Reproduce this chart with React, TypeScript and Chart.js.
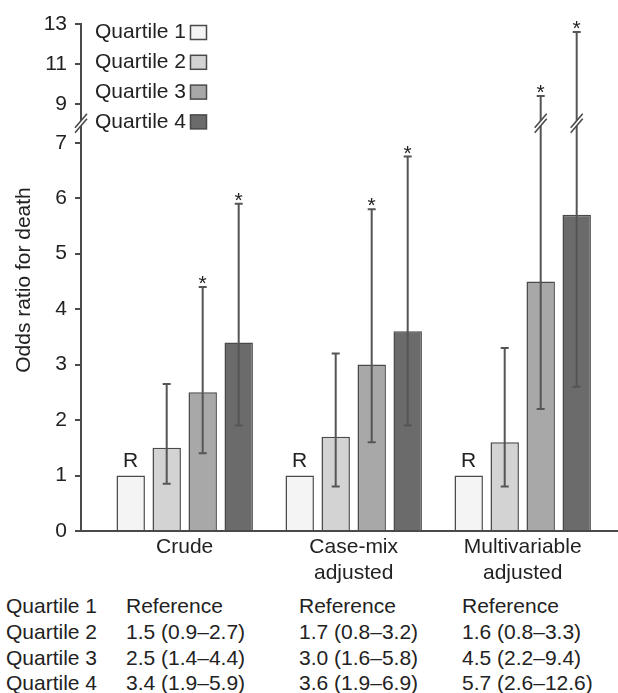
import React, { useEffect, useRef } from 'react';
import { Chart, registerables } from 'chart.js';

Chart.register(...registerables);

const FONT = "'Liberation Sans', Arial, Helvetica, sans-serif";
const TEXT = '#222222';
const LINE = '#4a4a4a';
const ERR = '#555555';

// ---- data ----
const categories = [['Crude'], ['Case-mix', 'adjusted'], ['Multivariable', 'adjusted']];
const quartileNames = ['Quartile 1', 'Quartile 2', 'Quartile 3', 'Quartile 4'];
const quartileColors = ['#f4f4f4', '#d3d3d3', '#a8a8a8', '#6b6b6b'];

const q1Values = [1, 1, 1];
const q2Values = [1.5, 1.7, 1.6];
const q3Values = [2.5, 3.0, 4.5];
const q4Values = [3.4, 3.6, 5.7];

const q2Low = [0.85, 0.8, 0.8];
const q2High = [2.65, 3.2, 3.3];
const q3Low = [1.4, 1.6, 2.2];
const q3High = [4.4, 5.8, 9.4];
const q4Low = [1.9, 1.9, 2.6];
const q4High = [5.9, 6.75, 12.6];

const q3Significant = [true, true, true];
const q4Significant = [true, true, true];

const referenceLabel = 'R';

const yTickValues = [0, 1, 2, 3, 4, 5, 6, 7, 9, 11, 13];
const yTickLabels = ['0', '1', '2', '3', '4', '5', '6', '7', '9', '11', '13'];
const yAxisTitle = 'Odds ratio for death';

const tableQuartile1 = ['Quartile 1', 'Reference', 'Reference', 'Reference'];
const tableQuartile2 = ['Quartile 2', '1.5 (0.9–2.7)', '1.7 (0.8–3.2)', '1.6 (0.8–3.3)'];
const tableQuartile3 = ['Quartile 3', '2.5 (1.4–4.4)', '3.0 (1.6–5.8)', '4.5 (2.2–9.4)'];
const tableQuartile4 = ['Quartile 4', '3.4 (1.9–5.9)', '3.6 (1.9–6.9)', '5.7 (2.6–12.6)'];

// ---- broken axis mapping ----
const BREAK_FROM = 7;
const BREAK_TO = 9;
const UPPER_START = 7.7;
const UPPER_SCALE = 0.36;
const BREAK_MARK_VALUE = 8;

function toAxis(v: number): number {
  if (v <= BREAK_FROM) return v;
  if (v >= BREAK_TO) return UPPER_START + (v - BREAK_TO) * UPPER_SCALE;
  return BREAK_FROM + ((v - BREAK_FROM) * (UPPER_START - BREAK_FROM)) / (BREAK_TO - BREAK_FROM);
}

const seriesValues = [q1Values, q2Values, q3Values, q4Values];
const lowerBounds: (number[] | null)[] = [null, q2Low, q3Low, q4Low];
const upperBounds: (number[] | null)[] = [null, q2High, q3High, q4High];
const significance: (boolean[] | null)[] = [null, null, q3Significant, q4Significant];
const tableRows = [tableQuartile1, tableQuartile2, tableQuartile3, tableQuartile4];

// ---- layout constants ----
const CANVAS_W = 618;
const CANVAS_H = 590;
const X_MIN = -0.6136;
const X_MAX = 2.5639;
const FONT_SIZE = 21;
const LEGEND_TOP = 32.5;
const LEGEND_STEP = 29.8;
const TABLE_TOP = 593;
const TABLE_STEP = 25.8;
const TABLE_COLS = [6, 126, 299, 462];

function drawBreak(ctx: CanvasRenderingContext2D, cx: number, cy: number, hx: number, hy: number, gap: number) {
  ctx.save();
  ctx.fillStyle = '#ffffff';
  ctx.beginPath();
  ctx.moveTo(cx - hx, cy + hy - gap);
  ctx.lineTo(cx + hx, cy - hy - gap);
  ctx.lineTo(cx + hx, cy - hy + gap);
  ctx.lineTo(cx - hx, cy + hy + gap);
  ctx.closePath();
  ctx.fill();
  ctx.strokeStyle = LINE;
  ctx.lineWidth = 1.6;
  ctx.beginPath();
  ctx.moveTo(cx - hx, cy + hy - gap);
  ctx.lineTo(cx + hx, cy - hy - gap);
  ctx.moveTo(cx - hx, cy + hy + gap);
  ctx.lineTo(cx + hx, cy - hy + gap);
  ctx.stroke();
  ctx.restore();
}

const overlay = {
  id: 'overlay',
  afterDatasetsDraw(chart: any) {
    const ctx: CanvasRenderingContext2D = chart.ctx;
    const ys = chart.scales.y;
    ctx.save();
    ctx.font = `${FONT_SIZE}px ${FONT}`;
    ctx.fillStyle = TEXT;
    const m0 = chart.getDatasetMeta(0);
    m0.data.forEach((bar: any) => {
      ctx.textAlign = 'center';
      ctx.textBaseline = 'middle';
      ctx.fillText(referenceLabel, bar.x, bar.y - 14);
    });
    for (let d = 1; d < 4; d++) {
      const lo = lowerBounds[d]!;
      const hi = upperBounds[d]!;
      const sig = significance[d];
      const meta = chart.getDatasetMeta(d);
      meta.data.forEach((bar: any, j: number) => {
        const x = bar.x;
        const yLo = ys.getPixelForValue(toAxis(lo[j]));
        const yHi = ys.getPixelForValue(toAxis(hi[j]));
        ctx.strokeStyle = ERR;
        ctx.lineWidth = 2;
        ctx.beginPath();
        ctx.moveTo(x, yLo);
        ctx.lineTo(x, yHi);
        ctx.moveTo(x - 4, yLo);
        ctx.lineTo(x + 4, yLo);
        ctx.moveTo(x - 4, yHi);
        ctx.lineTo(x + 4, yHi);
        ctx.stroke();
        if (hi[j] > BREAK_TO) {
          drawBreak(ctx, x, ys.getPixelForValue(toAxis(BREAK_MARK_VALUE)), 6, 7, 2.5);
        }
        if (sig && sig[j]) {
          ctx.fillStyle = TEXT;
          ctx.textAlign = 'center';
          ctx.textBaseline = 'alphabetic';
          ctx.fillText('*', x, yHi + 3);
        }
      });
    }
    ctx.restore();
  },
  afterDraw(chart: any) {
    const ctx: CanvasRenderingContext2D = chart.ctx;
    const ys = chart.scales.y;
    const area = chart.chartArea;
    drawBreak(ctx, area.left, ys.getPixelForValue(toAxis(BREAK_MARK_VALUE)), 6, 7, 2.5);
    ctx.save();
    ctx.font = `${FONT_SIZE}px ${FONT}`;
    quartileNames.forEach((name, i) => {
      const cy = LEGEND_TOP + i * LEGEND_STEP;
      ctx.fillStyle = TEXT;
      ctx.textAlign = 'right';
      ctx.textBaseline = 'middle';
      ctx.fillText(name, 186, cy);
      ctx.fillStyle = quartileColors[i];
      ctx.fillRect(190.5, cy - 7, 16, 14);
      ctx.strokeStyle = LINE;
      ctx.lineWidth = 1.5;
      ctx.strokeRect(190.5, cy - 7, 16, 14);
    });
    ctx.translate(24, 280);
    ctx.rotate(-Math.PI / 2);
    ctx.fillStyle = TEXT;
    ctx.textAlign = 'center';
    ctx.textBaseline = 'middle';
    ctx.fillText(yAxisTitle, 0, 0);
    ctx.restore();
  },
};

export default function App() {
  const ref = useRef<HTMLCanvasElement>(null);
  useEffect(() => {
    const canvas = ref.current;
    if (!canvas) return;
    const datasets = quartileNames.map((name, i) => ({
      label: name,
      data: seriesValues[i].map((v, j) => ({ x: j, y: toAxis(v) })),
      backgroundColor: quartileColors[i],
      borderColor: LINE,
      borderWidth: 1.5,
      borderSkipped: 'start' as const,
      categoryPercentage: 0.852,
      barPercentage: 0.79,
    }));
    const tickFont = { family: FONT, size: FONT_SIZE, lineHeight: 1.24 };
    const chart = new Chart(canvas, {
      type: 'bar',
      data: { datasets },
      options: {
        animation: false,
        responsive: false,
        maintainAspectRatio: false,
        layout: { padding: { top: 24, right: 0, bottom: 0, left: 0 } },
        plugins: { legend: { display: false }, tooltip: { enabled: false }, title: { display: false } },
        scales: {
          x: {
            type: 'linear',
            min: X_MIN,
            max: X_MAX,
            offset: false,
            grid: { display: false, drawTicks: false, offset: false },
            border: { display: true, color: LINE, width: 2 },
            ticks: {
              padding: 3,
              maxRotation: 0,
              autoSkip: false,
              color: TEXT,
              font: tickFont,
              callback: (_v: any, i: number) => categories[i],
            },
            afterBuildTicks: (s: any) => {
              s.ticks = categories.map((_c, i) => ({ value: i }));
            },
            afterFit: (s: any) => {
              s.height = CANVAS_H - 531;
            },
          },
          y: {
            type: 'linear',
            min: 0,
            max: toAxis(13),
            grid: { drawOnChartArea: false, drawTicks: true, tickLength: 6, color: LINE, lineWidth: 2 },
            border: { display: true, color: LINE, width: 2 },
            ticks: {
              padding: 8,
              color: TEXT,
              font: tickFont,
              autoSkip: false,
              callback: (_v: any, i: number) => yTickLabels[i],
            },
            afterBuildTicks: (s: any) => {
              s.ticks = yTickValues.map((v) => ({ value: toAxis(v) }));
            },
            afterFit: (s: any) => {
              s.width = 81;
            },
          },
        },
      } as any,
      plugins: [overlay as any],
    });
    return () => chart.destroy();
  }, []);

  return (
    <div
      style={{
        position: 'fixed',
        left: 0,
        top: 0,
        width: CANVAS_W,
        height: 693,
        overflow: 'hidden',
        background: '#ffffff',
      }}
    >
      <canvas
        ref={ref}
        width={CANVAS_W}
        height={CANVAS_H}
        style={{ position: 'absolute', left: 0, top: 0, width: CANVAS_W, height: CANVAS_H }}
      />
      {tableRows.map((row, r) => (
        <div
          key={r}
          style={{
            position: 'absolute',
            left: 0,
            top: TABLE_TOP + r * TABLE_STEP,
            width: CANVAS_W,
            height: 26,
            fontFamily: FONT,
            fontSize: FONT_SIZE,
            lineHeight: '26px',
            color: TEXT,
          }}
        >
          {row.map((cell, c) => (
            <span key={c} style={{ position: 'absolute', left: TABLE_COLS[c], top: 0, whiteSpace: 'nowrap' }}>
              {cell}
            </span>
          ))}
        </div>
      ))}
    </div>
  );
}
